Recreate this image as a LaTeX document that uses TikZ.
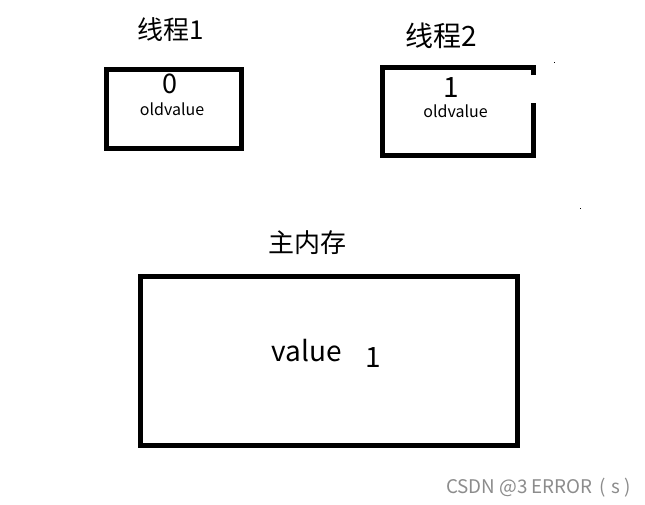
\documentclass[tikz,border=0pt]{standalone}
\usepackage{fontspec}
\setmainfont{Noto Sans CJK SC}
\tikzset{
  box/.style={draw=black, line width=5pt, miter limit=10},
  lbl/.style={inner sep=0pt, outer sep=0pt, anchor=base, text=black},
  fs/.style={font=\fontsize{#1}{#1}\selectfont}
}
\begin{document}
\begin{tikzpicture}[x=1pt,y=-1pt]
\useasboundingbox (0,0) rectangle (645,504);
\fill[white] (0,0) rectangle (645,504);
% thread 1
\node[lbl, anchor=base west, fs=26] (t1) at (137,39) {线程1};
\draw[box] (106.5,69.5) rectangle (241.5,148.5);
\node[lbl, fs=27] (v0) at (170,93) {0};
\node[lbl, fs=16] (o1) at (172,115) {oldvalue};
% thread 2
\node[lbl, anchor=base west, fs=28] (t2) at (405,46) {线程2};
\draw[box, line join=miter] (533.5,75) -- (533.5,67.5) -- (382.5,67.5) -- (382.5,155.5) -- (533.5,155.5) -- (533.5,103);
\node[lbl, fs=28] (v1) at (451,97) {1};
\node[lbl, fs=16] (o2) at (455.5,117.5) {oldvalue};
\fill[black] (553.5,61.5) rectangle (554.5,62.5);
\fill[black] (579.5,207.5) rectangle (580.5,208.5);
% main memory
\node[lbl, fs=26] (mm) at (307,252) {主内存};
\draw[box] (140.5,276.5) rectangle (517.5,445.5);
\node[lbl, fs=28] (val) at (307,361) {value};
\node[lbl, fs=28] (one) at (373,367) {1};
% watermark
\node[lbl, anchor=base west, fs=18.8, text=black!45] (wm) at (446,493) {CSDN @3 ERROR\hspace{7pt}(\hspace{5pt}s\hspace{5pt})};
\end{tikzpicture}
\end{document}
